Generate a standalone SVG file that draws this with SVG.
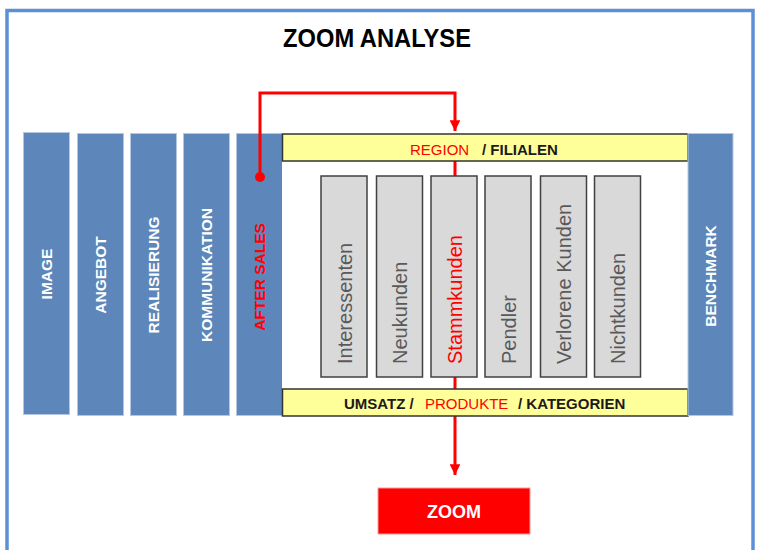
<svg xmlns="http://www.w3.org/2000/svg" width="757" height="550" viewBox="0 0 757 550">
  <style>
    .frame { fill: none; stroke: #5b8fd8; stroke-width: 3.5; }
    .bar { fill: #5d87ba; stroke: #b4c7e0; stroke-width: 1; }
    .barText { font-family: "Liberation Sans", Arial, sans-serif; font-weight: bold; font-size: 15.5px; fill: #ffffff; text-anchor: middle; }
    .band { fill: #ffff99; stroke: #333333; stroke-width: 1.5; }
    .bandText { font-family: "Liberation Sans", Arial, sans-serif; font-size: 15px; }
    .b { font-weight: bold; fill: #1a1a1a; }
    .r { fill: #ff0000; }
    .seg { fill: #d9d9d9; stroke: #404040; stroke-width: 1.5; }
    .segText { font-family: "Liberation Sans", Arial, sans-serif; font-size: 20px; fill: #595959; }
    .link { fill: none; stroke: #ff0000; stroke-width: 3; }
  </style>
  <defs>
    <marker id="arrow" viewBox="0 0 10 10" refX="10" refY="5" markerWidth="3.6" markerHeight="3.6" markerUnits="strokeWidth" orient="auto">
      <path d="M0,0 L10,5 L0,10 Z" fill="#ff0000"/>
    </marker>
  </defs>

  <rect width="757" height="550" fill="#ffffff"/>
  <rect class="frame" x="7" y="10.5" width="746" height="560"/>

  <text x="377" y="47" font-family="'Liberation Sans', Arial, sans-serif" font-weight="bold" font-size="26" text-anchor="middle" textLength="188" lengthAdjust="spacingAndGlyphs" fill="#000000">ZOOM ANALYSE</text>

  <!-- left-hand dimensions -->
  <g id="image">
    <rect class="bar" x="23.5" y="132.5" width="46" height="282"/>
    <text class="barText" transform="translate(51.5,274) rotate(-90)">IMAGE</text>
  </g>
  <g id="angebot">
    <rect class="bar" x="77.5" y="133.5" width="46" height="282"/>
    <text class="barText" transform="translate(105.5,275) rotate(-90)">ANGEBOT</text>
  </g>
  <g id="realisierung">
    <rect class="bar" x="130.5" y="133.5" width="46" height="282"/>
    <text class="barText" transform="translate(158.5,275) rotate(-90)">REALISIERUNG</text>
  </g>
  <g id="kommunikation">
    <rect class="bar" x="183.5" y="133.5" width="46" height="282"/>
    <text class="barText" transform="translate(211.5,275) rotate(-90)">KOMMUNIKATION</text>
  </g>
  <g id="after-sales">
    <rect class="bar" x="236.5" y="133.5" width="47" height="282"/>
    <text class="barText" transform="translate(264.5,277) rotate(-90)" style="fill:#ff0000">AFTER SALES</text>
  </g>

  <!-- zoom panel -->
  <g id="panel">
    <rect x="282" y="133" width="406" height="283" fill="#ffffff"/>
  </g>

  <!-- connectors: drawn over the side bars, beneath the bands and segments -->
  <g id="connectors">
    <polyline class="link" points="260,177 260,93 455,93 455,131" marker-end="url(#arrow)"/>
    <line class="link" x1="455" y1="140" x2="455" y2="475" marker-end="url(#arrow)"/>
    <circle cx="260" cy="177" r="5" fill="#ff0000"/>
  </g>

  <g id="region">
    <rect class="band" x="282.5" y="134" width="405.5" height="27"/>
    <text class="bandText" x="410" y="155"><tspan class="r">REGION</tspan><tspan class="b" x="482">/ FILIALEN</tspan></text>
  </g>

  <g id="umsatz">
    <rect class="band" x="282.5" y="389" width="405.5" height="27"/>
    <text class="bandText" x="344" y="409"><tspan class="b">UMSATZ /</tspan><tspan class="r" x="425">PRODUKTE</tspan><tspan class="b" x="518">/ KATEGORIEN</tspan></text>
  </g>

  <!-- customer segments -->
  <g id="interessenten">
    <rect class="seg" x="321" y="176" width="46" height="201"/>
    <text class="segText" transform="translate(351.5,364) rotate(-90)">Interessenten</text>
  </g>
  <g id="neukunden">
    <rect class="seg" x="376.5" y="176" width="46" height="201"/>
    <text class="segText" transform="translate(407,364) rotate(-90)">Neukunden</text>
  </g>
  <g id="stammkunden">
    <rect class="seg" x="431" y="176" width="46" height="201"/>
    <text class="segText" transform="translate(461.5,364) rotate(-90)" style="fill:#ff0000">Stammkunden</text>
  </g>
  <g id="pendler">
    <rect class="seg" x="485" y="176" width="46" height="201"/>
    <text class="segText" transform="translate(515.5,364) rotate(-90)">Pendler</text>
  </g>
  <g id="verlorene-kunden">
    <rect class="seg" x="540.5" y="176" width="46" height="201"/>
    <text class="segText" transform="translate(571,364) rotate(-90)">Verlorene Kunden</text>
  </g>
  <g id="nichtkunden">
    <rect class="seg" x="594.5" y="176" width="46" height="201"/>
    <text class="segText" transform="translate(625,364) rotate(-90)">Nichtkunden</text>
  </g>

  <g id="benchmark">
    <rect class="bar" x="688" y="133.5" width="45" height="282"/>
    <text class="barText" transform="translate(715.5,276) rotate(-90)">BENCHMARK</text>
  </g>

  <g id="zoom">
    <rect x="378" y="488" width="152" height="46" fill="#ff0000" stroke="#ff9a9a" stroke-width="1"/>
    <text x="454" y="518" font-family="'Liberation Sans', Arial, sans-serif" font-weight="bold" font-size="18" fill="#ffffff" text-anchor="middle">ZOOM</text>
  </g>
</svg>
